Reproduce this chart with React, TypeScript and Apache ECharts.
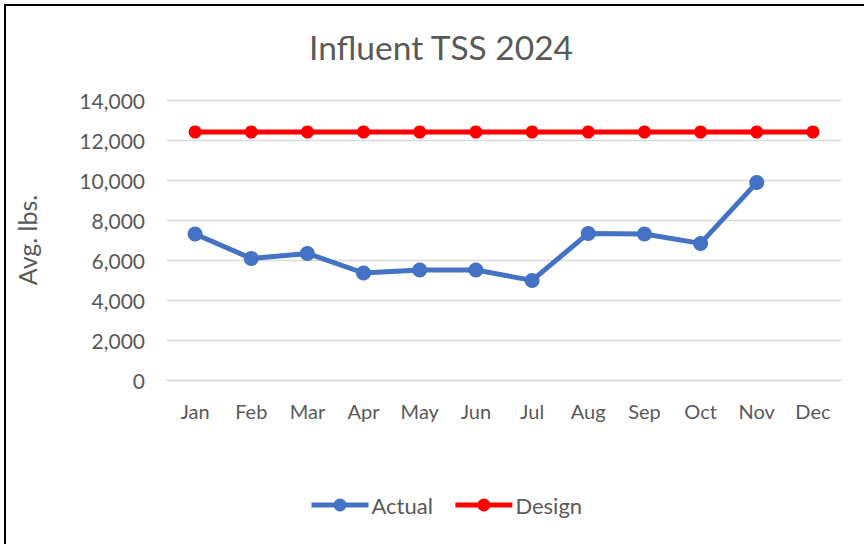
import React, { useEffect, useRef } from "react";
import * as echarts from "echarts";

const months = ["Jan", "Feb", "Mar", "Apr", "May", "Jun", "Jul", "Aug", "Sep", "Oct", "Nov", "Dec"];
const actual: (number | null)[] = [7300, 6080, 6330, 5350, 5500, 5500, 4980, 7330, 7300, 6830, 9870, null];
const design: number[] = [12400, 12400, 12400, 12400, 12400, 12400, 12400, 12400, 12400, 12400, 12400, 12400];
const yTicks = { min: 0, max: 14000, interval: 2000 };

const FONT = "Lato";
const TXT = "#595959";

export default function App() {
  const ref = useRef<HTMLDivElement>(null);
  useEffect(() => {
    if (!ref.current) return;
    const chart = echarts.init(ref.current, undefined, { renderer: "svg" });
    chart.setOption({
      animation: false,
      backgroundColor: "#ffffff",
      title: {
        text: "Influent TSS 2024",
        left: 304,
        top: 25,
        textStyle: { fontFamily: FONT, fontSize: 33.5, fontWeight: "normal", color: TXT },
      },
      graphic: [
        {
          type: "rect",
          shape: { x: 5, y: 5, width: 1000, height: 1000 },
          style: { fill: "none", stroke: "#000", lineWidth: 2 },
          silent: true,
        },
      ],
      grid: { left: 167, right: 23, top: 100, bottom: 164, containLabel: false },
      legend: {
        bottom: 23,
        left: 304,
        itemWidth: 57,
        itemHeight: 16,
        itemGap: 20,
        lineStyle: { width: 5 },
        textStyle: { fontFamily: FONT, fontSize: 22, color: TXT, padding: [0, 0, 0, -2] },
        data: ["Actual", "Design"],
      },
      xAxis: {
        type: "category",
        data: months,
        boundaryGap: true,
        axisLine: { show: true, lineStyle: { color: "#D9D9D9", width: 1.3 } },
        axisTick: { show: false },
        axisLabel: { fontFamily: FONT, fontSize: 20, color: TXT, margin: 21 },
      },
      yAxis: {
        type: "value",
        min: yTicks.min,
        max: yTicks.max,
        interval: yTicks.interval,
        name: "Avg. lbs.",
        nameLocation: "middle",
        nameRotate: 90,
        nameGap: 128,
        nameTextStyle: { fontFamily: FONT, fontSize: 25, color: TXT },
        axisLine: { show: false },
        axisTick: { show: false },
        splitLine: { lineStyle: { color: "#D9D9D9", width: 1.3 } },
        axisLabel: {
          fontFamily: FONT,
          fontSize: 21,
          color: TXT,
          margin: 22,
          formatter: (v: number) => v.toLocaleString("en-US"),
        },
      },
      series: [
        {
          name: "Actual",
          type: "line",
          data: actual,
          symbol: "circle",
          symbolSize: 15,
          color: "#4472C4",
          lineStyle: { width: 5, color: "#4472C4" },
          itemStyle: { color: "#4472C4" },
        },
        {
          name: "Design",
          type: "line",
          data: design,
          symbol: "circle",
          symbolSize: 13,
          color: "#FF0000",
          lineStyle: { width: 5, color: "#FF0000" },
          itemStyle: { color: "#FF0000" },
        },
      ],
    });
    return () => chart.dispose();
  }, []);
  return (
    <div
      ref={ref}
      style={{ position: "fixed", left: 0, top: 0, width: 864, height: 544, background: "#fff" }}
    />
  );
}
